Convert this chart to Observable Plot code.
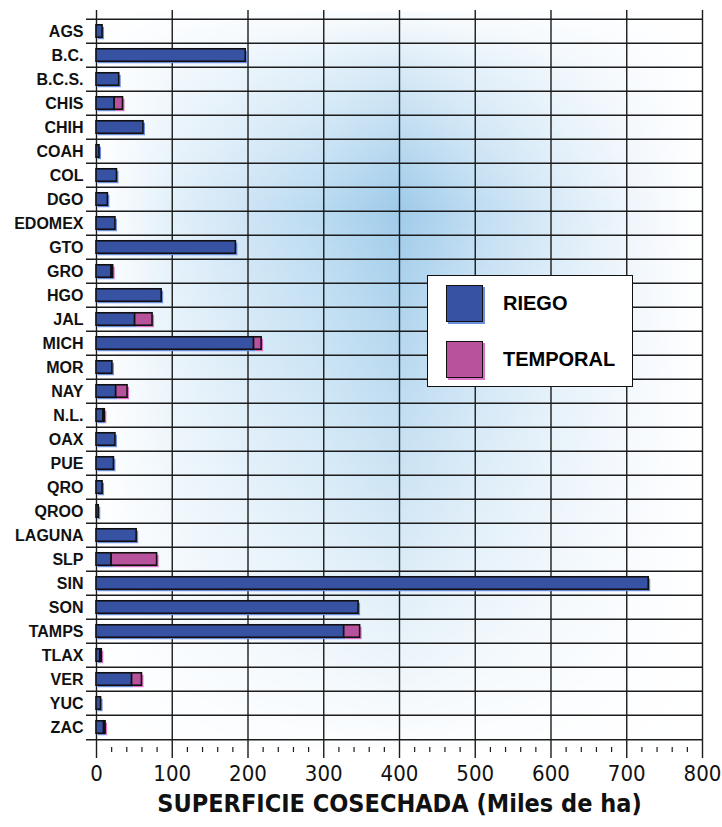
<!DOCTYPE html>
<html>
<head>
<meta charset="utf-8">
<script src="https://cdn.jsdelivr.net/npm/d3@7"></script>
<script src="https://cdn.jsdelivr.net/npm/@observablehq/plot@0.6"></script>
<style>
  html, body { margin: 0; padding: 0; background: #ffffff; }
  #wrap { position: relative; width: 722px; height: 827px; }
  #legend {
    position: absolute; left: 427px; top: 275px; width: 204px; height: 110px;
    background: #ffffff; border: 1.5px solid #111;
    font-family: "Liberation Sans", Arial, sans-serif; font-weight: bold; font-size: 20px; color: #000;
  }
  .item { position: absolute; left: 18px; display: flex; align-items: center; }
  .sw { width: 35px; height: 35px; border: 1.5px solid #111; margin-right: 20px; }
</style>
</head>
<body>
<div id="wrap"></div>
<script>
const states = ["AGS","B.C.","B.C.S.","CHIS","CHIH","COAH","COL","DGO","EDOMEX","GTO","GRO","HGO","JAL","MICH","MOR","NAY","N.L.","OAX","PUE","QRO","QROO","LAGUNA","SLP","SIN","SON","TAMPS","TLAX","VER","YUC","ZAC"];
const riego    = [8,197,30,24,62,4,27,15,25,184,20,86,51,208,21,26,9,25,23,8,3,53,20,729,346,327,5,47,6,10];
const temporal = [0,0,0,11,0,0,0,0,0,0,2,0,23,10,0,15,2,0,0,0,0,0,60,0,0,21,2,13,0,2];
const xTicks = [0,100,200,300,400,500,600,700,800];
const minorTicks = [20,40,60,80,120,140,160,180,220,240,260,280,320,340,360,380,420,440,460,480,520,540,560,580,620,640,660,680,720,740,760,780];
const seriesNames = ["RIEGO","TEMPORAL"];
const seriesColors = ["#3852a3","#b8529c"];
const shadowColors = ["#6b8de0","#df72c6"];
const xTitle = "SUPERFICIE COSECHADA (Miles de ha)";

const rows = states.map((s, i) => ({state: s, riego: riego[i], temporal: temporal[i]}));
const rowsT = rows.filter(d => d.temporal > 0);

const W = 722, H = 827, mT = 10, mB = 80, mL = 96, mR = 20;
const step = (H - mT - mB) / states.length;
const bandInset = (step - 13) / 2;
const lineColor = "#1c1c1c";

const plot = Plot.plot({
  width: W, height: H,
  marginTop: mT, marginBottom: mB, marginLeft: mL, marginRight: mR,
  style: {background: "transparent", color: "#000"},
  x: {domain: [0, 800], axis: null},
  y: {domain: states, padding: 0, axis: null},
  marks: [
    Plot.frame({fill: "url(#bgH)", stroke: "none"}),
    // horizontal row separators
    Plot.ruleY(states, {y: d => d, dy: -step / 2, stroke: lineColor, strokeWidth: 1.4, insetLeft: -10}),
    Plot.ruleY([states[states.length - 1]], {y: d => d, dy: step / 2, stroke: lineColor, strokeWidth: 1.4, insetLeft: -10}),
    // vertical grid + major ticks
    Plot.ruleX(xTicks, {x: d => d, stroke: lineColor, strokeWidth: 1.4, insetBottom: -11}),
    // minor ticks
    Plot.ruleX(minorTicks, {x: d => d, stroke: lineColor, strokeWidth: 1.2, insetTop: H - mT - mB, insetBottom: -5}),
    // bar shadows
    Plot.barX(rows, {y: "state", x1: 0, x2: "riego", fill: shadowColors[0], dx: 2, dy: 2, insetTop: bandInset, insetBottom: bandInset}),
    Plot.barX(rowsT, {y: "state", x1: "riego", x2: d => d.riego + d.temporal, fill: shadowColors[1], dx: 2, dy: 2, insetTop: bandInset, insetBottom: bandInset}),
    // bars
    Plot.barX(rows, {y: "state", x1: 0, x2: "riego", fill: seriesColors[0], stroke: "#111", strokeWidth: 1.6, insetTop: bandInset, insetBottom: bandInset}),
    Plot.barX(rowsT, {y: "state", x1: "riego", x2: d => d.riego + d.temporal, fill: seriesColors[1], stroke: "#111", strokeWidth: 1.6, insetTop: bandInset, insetBottom: bandInset}),
    // category labels
    Plot.text(states, {y: d => d, text: d => d, frameAnchor: "left", dx: -13, textAnchor: "end",
      fontFamily: "Liberation Sans, Arial, sans-serif", fontWeight: "bold", fontSize: 16, fill: "#111"}),
    // x tick labels
    Plot.text(xTicks, {x: d => d, text: d => String(d), frameAnchor: "bottom", lineAnchor: "top", dy: 18,
      fontFamily: "Liberation Sans Narrow, Arial Narrow, DejaVu Sans Condensed, sans-serif", fontSize: 22, fill: "#111"}),
    // axis title
    Plot.text([xTitle], {text: d => d, frameAnchor: "bottom", x: 400, lineAnchor: "top", dy: 47,
      fontFamily: "Liberation Sans Narrow, Arial Narrow, DejaVu Sans Condensed, sans-serif", fontWeight: "bold", fontSize: 25, fill: "#111"})
  ]
});

// gradient background (product of horizontal and vertical profiles)
const ns = "http://www.w3.org/2000/svg";
const defs = document.createElementNS(ns, "defs");
defs.innerHTML = `
  <linearGradient id="bgH" x1="0" y1="0" x2="1" y2="0">
    <stop offset="0" stop-color="#ffffff"/>
    <stop offset="0.125" stop-color="#e2f0fa"/>
    <stop offset="0.25" stop-color="#cde4f5"/>
    <stop offset="0.375" stop-color="#b8daf1"/>
    <stop offset="0.5" stop-color="#9fcbea"/>
    <stop offset="0.625" stop-color="#bedcf2"/>
    <stop offset="0.75" stop-color="#d8eaf7"/>
    <stop offset="0.875" stop-color="#eef5fc"/>
    <stop offset="1" stop-color="#ffffff"/>
  </linearGradient>
  <linearGradient id="bgV" x1="0" y1="0" x2="0" y2="1">
    <stop offset="0" stop-color="#0d0d0d"/>
    <stop offset="0.08" stop-color="#6b6b6b"/>
    <stop offset="0.265" stop-color="#ffffff"/>
    <stop offset="0.5" stop-color="#b3b3b3"/>
    <stop offset="0.78" stop-color="#555555"/>
    <stop offset="1" stop-color="#080808"/>
  </linearGradient>
  <mask id="bgMask" maskUnits="objectBoundingBox" maskContentUnits="objectBoundingBox" x="0" y="0" width="1" height="1">
    <rect x="0" y="0" width="1" height="1" fill="url(#bgV)"/>
  </mask>`;
plot.insertBefore(defs, plot.firstChild);
const fr = plot.querySelector('[aria-label="frame"]');
if (fr) fr.setAttribute("mask", "url(#bgMask)");

const wrap = document.getElementById("wrap");
wrap.appendChild(plot);

const legend = document.createElement("div");
legend.id = "legend";
legend.innerHTML = seriesNames.map((n, i) =>
  `<div class="item" style="top:${9 + i * 56}px"><div class="sw" style="background:${seriesColors[i]};box-shadow:2px 2px 0 ${shadowColors[i]}"></div><span>${n}</span></div>`
).join("");
wrap.appendChild(legend);
</script>
</body>
</html>
